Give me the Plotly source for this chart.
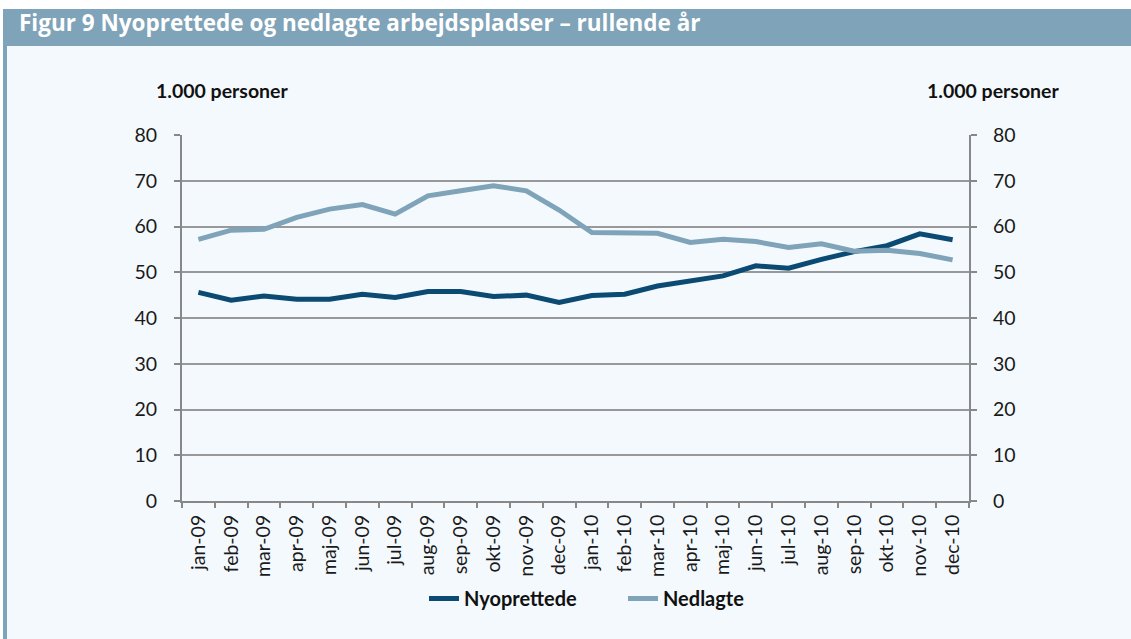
import plotly.graph_objects as go

months = ["jan-09","feb-09","mar-09","apr-09","maj-09","jun-09","jul-09","aug-09","sep-09","okt-09","nov-09","dec-09",
          "jan-10","feb-10","mar-10","apr-10","maj-10","jun-10","jul-10","aug-10","sep-10","okt-10","nov-10","dec-10"]
nyoprettede = [45.6,43.9,44.8,44.1,44.1,45.2,44.5,45.8,45.8,44.7,45.0,43.4,
               44.9,45.2,47.0,48.2,49.2,51.4,50.9,52.8,54.5,55.8,58.4,57.1]
nedlagte = [57.2,59.2,59.4,62.0,63.8,64.8,62.7,66.7,67.8,68.9,67.8,63.6,
            58.7,58.7,58.5,56.5,57.2,56.7,55.4,56.2,54.6,54.8,54.1,52.7]
y_ticks = [0,10,20,30,40,50,60,70,80]

dark = "#0B4A72"
light = "#7FA3B8"
bg = "#F4F9FD"
font_family = "Lato"

fig = go.Figure()
fig.add_trace(go.Scatter(x=months, y=nyoprettede, name="Nyoprettede", mode="lines",
                         line=dict(color=dark, width=5)))
fig.add_trace(go.Scatter(x=months, y=nedlagte, name="Nedlagte", mode="lines",
                         line=dict(color=light, width=5)))
# invisible trace to activate the right axis
fig.add_trace(go.Scatter(x=months, y=nedlagte, yaxis="y2", mode="lines",
                         line=dict(color="rgba(0,0,0,0)"), showlegend=False, hoverinfo="skip"))

axis_font = dict(family=font_family, size=19.5, color="#1a1a1a")

def px(x): return (x - 182) / 787
def py(y): return (501 - y) / 366

fig.update_layout(
    width=1131, height=639,
    paper_bgcolor=bg, plot_bgcolor=bg,
    margin=dict(l=182, r=162, t=135, b=138),
    font=dict(family=font_family, color="#1a1a1a"),
    xaxis=dict(type="category", tickangle=-90, tickfont=dict(family=font_family, size=19.5, color="#1a1a1a"),
               showline=True, linecolor="#888", linewidth=2, ticks="outside", ticklen=5,
               tickcolor="#888", tickwidth=2, tickson="boundaries", showgrid=False,
               range=[-0.5, 23.5], mirror=False, ticklabelstandoff=4),
    yaxis=dict(range=[0, 80], tickvals=y_ticks, tickfont=axis_font, showline=True, linecolor="#888",
               linewidth=2, ticks="outside", ticklen=6, tickcolor="#888", tickwidth=2,
               showgrid=True, gridcolor="#999", gridwidth=1.5, zeroline=False, ticklabelstandoff=13),
    yaxis2=dict(range=[0, 80], tickvals=y_ticks, tickfont=axis_font, overlaying="y", side="right",
                showline=True, linecolor="#888", linewidth=2, ticks="outside", ticklen=6,
                tickcolor="#888", tickwidth=2, showgrid=False, zeroline=False, ticklabelstandoff=12),
    showlegend=True,
    legend=dict(orientation="h", x=px(424), xanchor="left", y=py(579), yanchor="top",
                font=dict(family=font_family, size=20, color="#111", weight="bold"),
                bgcolor="rgba(0,0,0,0)", tracegroupgap=0, entrywidth=154, entrywidthmode="pixels"),
)

fig.add_shape(type="rect", xref="paper", yref="paper", x0=px(0), x1=px(1131), y0=py(9), y1=py(0),
              line=dict(width=0), fillcolor="white", layer="below")
fig.add_shape(type="rect", xref="paper", yref="paper", x0=px(0), x1=px(3), y0=py(639), y1=py(0),
              line=dict(width=0), fillcolor="white", layer="below")
fig.add_shape(type="rect", xref="paper", yref="paper", x0=px(3), x1=px(1131), y0=py(46), y1=py(9),
              line=dict(width=0), fillcolor=light, layer="below")
fig.add_shape(type="rect", xref="paper", yref="paper", x0=px(3), x1=px(7), y0=py(639), y1=py(9),
              line=dict(width=0), fillcolor=light, layer="below")

fig.add_annotation(xref="paper", yref="paper", x=px(17), y=py(22), xanchor="left", yanchor="middle",
                   text="<b>Figur 9 Nyoprettede og nedlagte arbejdspladser – rullende år</b>", showarrow=False,
                   font=dict(family="Open Sans", size=22.5, color="white"))
fig.add_annotation(xref="paper", yref="paper", x=px(222), y=py(90), xanchor="center", yanchor="middle",
                   text="<b>1.000 personer</b>", showarrow=False,
                   font=dict(family=font_family, size=19.5, color="#111"))
fig.add_annotation(xref="paper", yref="paper", x=px(993), y=py(90), xanchor="center", yanchor="middle",
                   text="<b>1.000 personer</b>", showarrow=False,
                   font=dict(family=font_family, size=19.5, color="#111"))

fig.write_html("out.html", config={"displayModeBar": False},
               post_script="document.body.style.margin='0';document.body.style.overflow='hidden';")
